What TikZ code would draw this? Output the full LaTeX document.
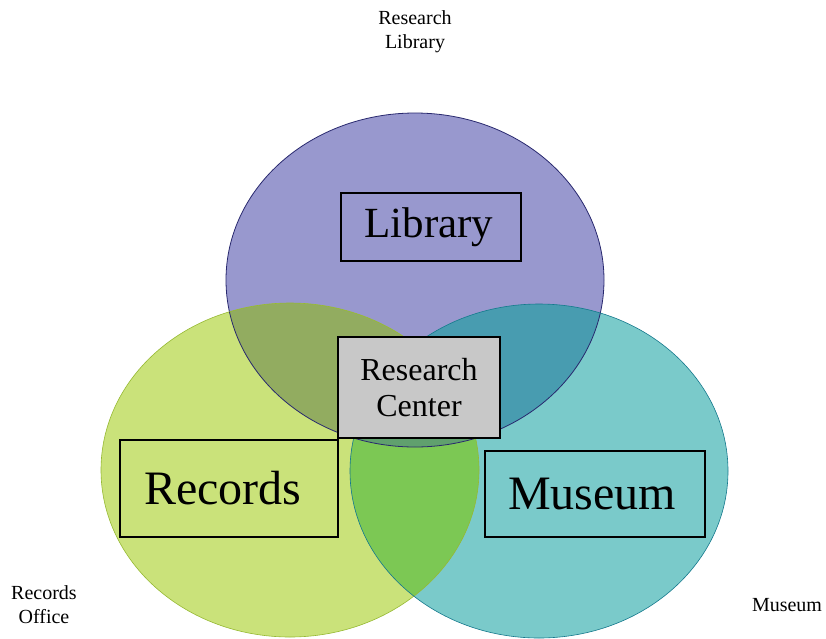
\documentclass[tikz,border=0pt]{standalone}
\usepackage{fontspec}
\setmainfont{Liberation Serif}
\definecolor{libfill}{RGB}{152,152,206}
\definecolor{libedge}{RGB}{40,40,110}
\definecolor{recfill}{RGB}{202,226,122}
\definecolor{recedge}{RGB}{150,185,50}
\definecolor{musfill}{RGB}{122,202,202}
\definecolor{musedge}{RGB}{20,120,140}
\definecolor{librec}{RGB}{146,172,96}
\definecolor{libmus}{RGB}{72,156,176}
\definecolor{recmus}{RGB}{124,200,84}
\definecolor{allthree}{RGB}{96,160,110}
\definecolor{centerfill}{RGB}{200,200,200}
\begin{document}
\begin{tikzpicture}[x=1pt,y=-1pt,
  eshape/.style={x radius=189pt, y radius=167pt},
  labelbox/.style={draw=black, line width=1.5pt, inner sep=0pt},
  outer/.style={align=center, font=\fontsize{20}{24}\selectfont}]
\useasboundingbox (0,0) rectangle (826,638);

% centres of the three sets
\coordinate (lib) at (415,280);
\coordinate (rec) at (290,470);
\coordinate (mus) at (539,471);

% base fills
\fill[libfill] (lib) ellipse [eshape];
\fill[recfill] (rec) ellipse [eshape];
\fill[musfill] (mus) ellipse [eshape];

% overlaps with the library set, and the triple overlap
\begin{scope}
  \clip (lib) ellipse [eshape];
  \fill[librec] (rec) ellipse [eshape];
  \fill[libmus] (mus) ellipse [eshape];
  \clip (rec) ellipse [eshape];
  \fill[allthree] (mus) ellipse [eshape];
\end{scope}
% records and museum overlap, outside the library set
\begin{scope}
  \clip (rec) ellipse [eshape];
  \begin{scope}[even odd rule]
    \clip (lib) ellipse [eshape] (-10,-10) rectangle (840,650);
    \fill[recmus] (mus) ellipse [eshape];
  \end{scope}
\end{scope}

% outlines
\draw[libedge, line width=0.8pt] (lib) ellipse [eshape];
\draw[recedge, line width=0.6pt] (rec) ellipse [eshape];
\draw[musedge, line width=0.6pt] (mus) ellipse [eshape];

% labelled boxes
\node[labelbox, minimum width=180pt, minimum height=68pt,
      font=\fontsize{43}{48}\selectfont] (libbox) at (431,227) {Library\hspace*{4pt}};
\node[labelbox, minimum width=218pt, minimum height=97pt,
      font=\fontsize{48}{52}\selectfont] (recbox) at (229,488.5) {Records\hspace*{12pt}};
\node[labelbox, minimum width=220pt, minimum height=86pt,
      font=\fontsize{48}{52}\selectfont] (musbox) at (595,494) {Museum\hspace*{6pt}};
\node[labelbox, fill=centerfill, minimum width=162pt, minimum height=101pt,
      align=center, font=\fontsize{32}{36}\selectfont] (center) at (419,387.5)
      {Research\\Center};

% outer captions
\node[outer] (libcap) at (415,32) {Research\\Library};
\node[outer] (reccap) at (44,605) {Records\\Office};
\node[outer] (muscap) at (787,605) {Museum};
\end{tikzpicture}
\end{document}
